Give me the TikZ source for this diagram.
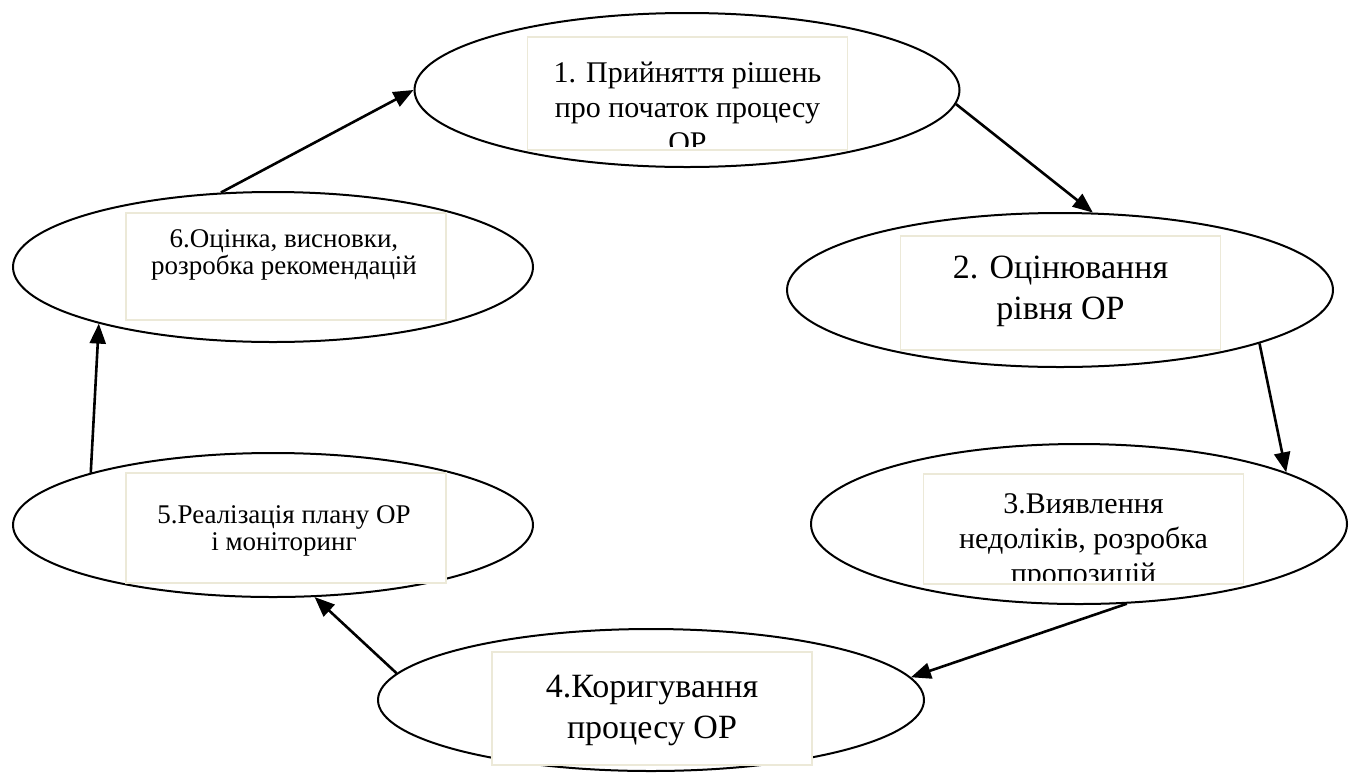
\documentclass[tikz,border=0pt]{standalone}
\usepackage{fontspec}
\setmainfont{Liberation Serif}
\usetikzlibrary{arrows.meta,shapes.geometric}
\definecolor{boxline}{RGB}{236,233,216}
\tikzset{
  stage/.style={
    ellipse,
    draw=black,
    line width=1pt,
    inner sep=0pt
  },
  textbox/.style={
    rectangle,
    draw=boxline,
    fill=white,
    line width=0.8pt,
    minimum width=160pt,
    inner sep=0pt
  },
  label-big/.style={align=center, inner sep=0pt, font=\fontsize{17}{20.5}\selectfont},
  label-mid/.style={align=center, inner sep=0pt, font=\fontsize{15}{17.5}\selectfont},
  label-small/.style={align=center, inner sep=0pt, font=\fontsize{13.5}{13.5}\selectfont},
  flow/.style={line width=1.3pt, -{Triangle[length=10pt,width=8pt]}}
}

\begin{document}
\begin{tikzpicture}[x=0.5pt, y=-0.5pt]
  \useasboundingbox (0,0) rectangle (1349,772);
  % Ellipses
  \node[stage, minimum width=272.5pt, minimum height=77pt] (e1) at (687,90) {};
  \node[stage, minimum width=273pt, minimum height=77pt] (e2) at (1060,290) {};
  \node[stage, minimum width=268pt, minimum height=80pt] (e3) at (1079,524) {};
  \node[stage, minimum width=273pt, minimum height=71pt] (e4) at (651,700) {};
  \node[stage, minimum width=260pt, minimum height=72pt] (e5) at (273,525) {};
  \node[stage, minimum width=260pt, minimum height=75pt] (e6) at (273,267) {};
  % Text frames
  \node[textbox, minimum height=56.5pt] (b1) at (687.5,93.5) {};
  \node[textbox, minimum height=57pt] (b2) at (1060.5,293) {};
  \node[textbox, minimum height=55pt] (b3) at (1083.5,529) {};
  \node[textbox, minimum height=56.5pt] (b4) at (652,708.5) {};
  \node[textbox, minimum height=55pt] (b5) at (286,528) {};
  \node[textbox, minimum height=53.5pt] (b6) at (286,266.5) {};
  % Texts (1 and 3 run over their frames)
  \begin{scope}
    \clip ([yshift=2pt]b1.south west) rectangle (b1.north east);
    \node[label-mid] (t1) at (687.5,107) {1. Прийняття рішень\\про початок процесу\\ОР};
  \end{scope}
  \node[label-big] (t2) at (1060.5,291) {2. Оцінювання\\рівня ОР};
  \begin{scope}
    \clip ([yshift=2pt]b3.south west) rectangle (b3.north east);
    \node[label-mid] (t3) at (1083.5,542) {3.Виявлення\\недоліків, розробка\\пропозицій};
  \end{scope}
  \node[label-big] (t4) at (652,710) {4.Коригування\\процесу ОР};
  \node[label-small] (t5) at (284,531) {5.Реалізація плану ОР\\і моніторинг};
  \node[label-small] (t6) at (284,255) {6.Оцінка, висновки,\\розробка рекомендацій};
  % Cycle
  \draw[flow] (e6.125) -- (e1.180);
  \draw[flow] (e1.357) -- (e2.67);
  \draw[flow] (e2.345) -- (e3.14);
  \draw[flow] (e3.301) -- (e4.5);
  \draw[flow] (e4.174) -- (e5.300);
  \draw[flow] (e5.164) -- (e6.198);
\end{tikzpicture}
\end{document}
